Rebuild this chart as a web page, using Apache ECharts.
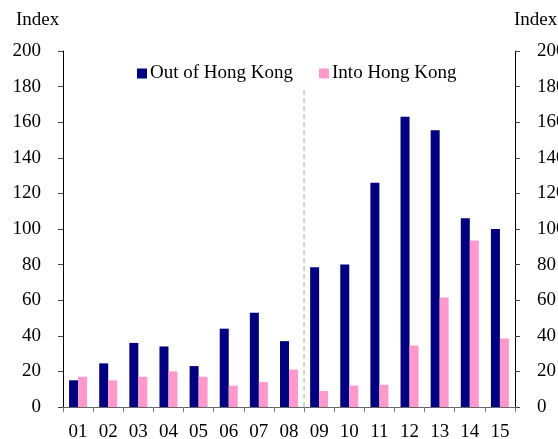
<!DOCTYPE html>
<html>
<head>
<meta charset="utf-8">
<script src="https://cdn.jsdelivr.net/npm/echarts@6/dist/echarts.min.js"></script>
<style>
  html, body { margin: 0; padding: 0; background: #fff; }
  #chart { width: 558px; height: 439px; }
</style>
</head>
<body>
<div id="chart"></div>
<script>
// Index values per year
const years = ['01','02','03','04','05','06','07','08','09','10','11','12','13','14','15'];
const outOfHongKong = [15, 24.5, 36, 34, 23, 44, 53, 37, 78.5, 80, 126, 163, 155.5, 106, 100];
const intoHongKong  = [17, 15, 17, 20, 17, 12, 14, 21, 9, 12, 12.5, 34.5, 61.5, 93.5, 38.5];
// Dashed separator between 08 and 09, drawn on a hidden 0-15 value axis
const separatorX = 8;
const separatorTop = 180;

const serif = 'Liberation Serif';
const chart = echarts.init(document.getElementById('chart'), null, { renderer: 'canvas' });

const valueAxisBase = {
  type: 'value', min: 0, max: 200, interval: 20,
  splitLine: { show: false },
  axisLine: { show: true, lineStyle: { color: '#000', width: 1 } },
  axisTick: { show: true, length: 5, lineStyle: { color: '#444' } },
  axisLabel: { fontFamily: serif, fontSize: 19, color: '#000', margin: 22 }
};

chart.setOption({
  animation: false,
  backgroundColor: '#fff',
  grid: { left: 63, right: 43, top: 51, bottom: 32, containLabel: false, outerBoundsMode: 'none' },
  legend: {
    top: 59, left: 132, itemGap: 26, itemWidth: 10, itemHeight: 10, icon: 'rect',
    textStyle: { fontFamily: serif, fontSize: 19, color: '#000', padding: [0, 0, 0, -2] },
    data: ['Out of Hong Kong', 'Into Hong Kong']
  },
  graphic: [
    { type: 'text', left: 16, top: 11, style: { text: 'Index', font: '19px "Liberation Serif"', fill: '#000' } },
    { type: 'text', left: 514, top: 11, style: { text: 'Index', font: '19px "Liberation Serif"', fill: '#000' } }
  ],
  xAxis: [
    {
      type: 'category', data: years,
      axisLine: { lineStyle: { color: '#666' } },
      axisTick: { show: true, length: 5, inside: false, lineStyle: { color: '#777' } },
      axisLabel: { fontFamily: serif, fontSize: 19, color: '#000', margin: 16 }
    },
    { type: 'value', min: 0, max: 15, show: false, position: 'bottom' }
  ],
  yAxis: [
    Object.assign({}, valueAxisBase, { position: 'left' }),
    Object.assign({}, valueAxisBase, { position: 'right' })
  ],
  series: [
    {
      name: 'Out of Hong Kong', type: 'bar', data: outOfHongKong,
      barWidth: 9, barGap: '0%', itemStyle: { color: '#000080' }
    },
    {
      name: 'Into Hong Kong', type: 'bar', data: intoHongKong,
      barWidth: 9, barGap: '0%', itemStyle: { color: '#ff99cc' }
    },
    {
      type: 'line', xAxisIndex: 1, yAxisIndex: 0, symbol: 'none', silent: true,
      data: [[separatorX, 0], [separatorX, separatorTop]],
      lineStyle: { color: '#c8c8c8', width: 1.5, type: [5, 3] }
    }
  ]
});
</script>
</body>
</html>
